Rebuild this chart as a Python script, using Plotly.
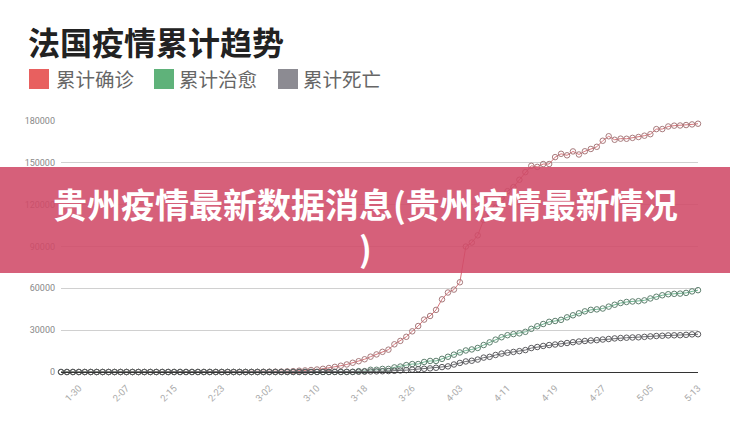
import plotly.graph_objects as go
import pandas as pd

# ---------------- data ----------------
dates = [d.strftime("%-m-%d") for d in pd.date_range("2020-01-27", "2020-05-13")]
tick_labels = ["1-30", "2-07", "2-15", "2-23", "3-02", "3-10", "3-18", "3-26",
               "4-03", "4-11", "4-19", "4-27", "5-05", "5-13"]
y_ticks = [0, 30000, 60000, 90000, 120000, 150000, 180000]

confirmed = (
    [3, 4, 5, 5, 6]
    + [6] * 7 + [11] * 7 + [12] * 10 + [14, 18, 38, 57, 100]
    + [130, 191, 212, 285, 423, 613, 949, 1126, 1412, 1784, 2281, 2876, 3661, 4499,
       5423, 6633, 7730, 9134, 10995, 12612, 14459, 16018, 19856, 22302, 25233,
       29155, 32964, 37575, 40174, 44550, 52128]
    + [56989, 59105, 64338, 89953, 92839, 98010, 109069, 112950, 117749, 124869,
       129654, 132591, 137877, 143303, 147863, 147091, 149130, 149149, 154097,
       156480, 155393, 158183, 155980, 158303, 159952, 161488, 165842, 169053,
       166543, 167346]
    + [167272, 167886, 168518, 169462, 170551, 174191, 174224, 176079, 176658,
       176782, 177094, 177547, 178060]
)
recovered = (
    [0] * 5
    + [0] * 11 + [2] * 3 + [4] * 7 + [11] * 7 + [12]
    + [12] * 16 + [602, 602, 1587, 1587, 2200, 2200, 3281, 3900, 4948, 5700, 5700,
                   7202, 7927, 7927, 9444]
    + [10934, 12428, 14008, 15438, 16183, 17250, 19337, 21254, 23206, 24932, 26391,
       27186, 27718, 28805, 30955, 32812, 34420, 35983, 36578, 37409, 39181, 40657,
       42088, 43493, 44594, 44903, 45513, 46886, 48228, 49476]
    + [50212, 50562, 50784, 51371, 52736, 53972, 55027, 55782, 56038, 56217, 56724,
       57785, 58673]
)
deaths = (
    [0] * 5
    + [0] * 14 + [1] * 15
    + [2, 3, 4, 4, 7, 9, 16, 19, 25, 33, 48, 61, 79, 91, 127, 148, 175, 264, 372,
       450, 562, 674, 860, 1100, 1331, 1696, 1995, 2314, 2606, 3024, 3523]
    + [4032, 5387, 6507, 7560, 8078, 8911, 10328, 10869, 12210, 13197, 13832, 14393,
       14967, 15729, 17167, 17920, 18681, 19323, 19718, 20265, 20796, 21340, 21856,
       22245, 22614, 22856, 23293, 23660, 24087, 24376]
    + [24594, 24760, 24895, 25201, 25531, 25809, 25987, 26230, 26310, 26380, 26643,
       26991, 27074]
)
series_names = ["累计确诊", "累计治愈", "累计死亡"]
series_values = [confirmed, recovered, deaths]

title_text = "法国疫情累计趋势"
banner_lines = ["贵州疫情最新数据消息(贵州疫情最新情况", ")"]

# ---------------- styles ----------------
legend_colors = ["#e8605f", "#5fb27a", "#8c8b92"]
line_colors = ["#d9767c", "#6fb892", "#6e6e72"]
marker_colors = ["#a77a7c", "#5e7f6e", "#5a5a5e"]
legend_square_x = [29, 154, 278]   # left edge of legend swatches (px)
legend_text_x = [54, 177, 301]

W, H = 730, 442
ml, mr, mt, mb = 61, 32, 121, 70
pw = W - ml - mr
ph = H - mt - mb

def px_x(x):
    return (x - ml) / pw

def px_y(y):
    return (H - mb - y) / ph

fig = go.Figure()
for name, vals, lc, mc in zip(series_names, series_values, line_colors, marker_colors):
    fig.add_trace(go.Scatter(
        x=dates, y=vals, mode="lines+markers", name=name, showlegend=False,
        line=dict(color=lc, width=1),
        marker=dict(symbol="circle-open", size=5.5, color=mc, line=dict(width=1)),
        cliponaxis=False,
    ))

shapes = []
annotations = []
# custom legend: swatches + labels
for name, c, sx, tx in zip(series_names, legend_colors, legend_square_x, legend_text_x):
    shapes.append(dict(type="rect", xref="paper", yref="paper",
                       x0=px_x(sx), x1=px_x(sx + 20), y0=px_y(89), y1=px_y(69),
                       fillcolor=c, line=dict(width=0)))
    annotations.append(dict(text=name, xref="paper", yref="paper",
                            x=px_x(tx), y=px_y(79), xanchor="left", yanchor="middle",
                            showarrow=False,
                            font=dict(size=19.5, color="#666", family="Noto Sans CJK SC")))

# overlay banner
shapes.append(dict(
    type="rect", xref="paper", yref="paper",
    x0=px_x(0), x1=px_x(W), y0=px_y(273), y1=px_y(167),
    fillcolor="rgb(208,74,104)", opacity=0.88, line=dict(width=0), layer="above",
))
annotations += [
    dict(text="<b>" + title_text + "</b>", xref="paper", yref="paper",
         x=px_x(26), y=px_y(41), xanchor="left", yanchor="middle", showarrow=False,
         font=dict(size=32, color="#222", family="Noto Sans CJK SC")),
    dict(text="<br>".join("<b>" + s + "</b>" for s in banner_lines),
         xref="paper", yref="paper", align="center",
         x=px_x(365), y=px_y(225), xanchor="center", yanchor="middle", showarrow=False,
         font=dict(size=34, color="white", family="Noto Sans CJK SC")),
]

fig.update_layout(
    width=W, height=H,
    margin=dict(l=ml, r=mr, t=mt, b=mb, pad=0),
    paper_bgcolor="white", plot_bgcolor="white",
    font=dict(family="Noto Sans CJK SC, Roboto, sans-serif", color="#666"),
    showlegend=False,
    xaxis=dict(
        type="category", categoryorder="array", categoryarray=dates,
        range=[0, len(dates) - 1],
        tickmode="array", tickvals=tick_labels, ticktext=tick_labels,
        tickangle=-45, tickfont=dict(size=9.5, color="#aaa", family="Roboto"),
        showgrid=False, showline=True, linecolor="#333", linewidth=1,
        ticks="", zeroline=False, ticklabelstandoff=6,
    ),
    yaxis=dict(
        range=[0, 180000], tickmode="array", tickvals=y_ticks,
        ticktext=[str(v) for v in y_ticks],
        tickfont=dict(size=9, color="#888", family="Roboto"),
        showgrid=True, gridcolor="#d0d0d0", gridwidth=1,
        showline=False, zeroline=False, ticks="", ticklabelstandoff=5,
    ),
    shapes=shapes,
    annotations=annotations,
)

fig.write_html("out.html", config={"displayModeBar": False},
               post_script="document.body.style.margin='0';")
